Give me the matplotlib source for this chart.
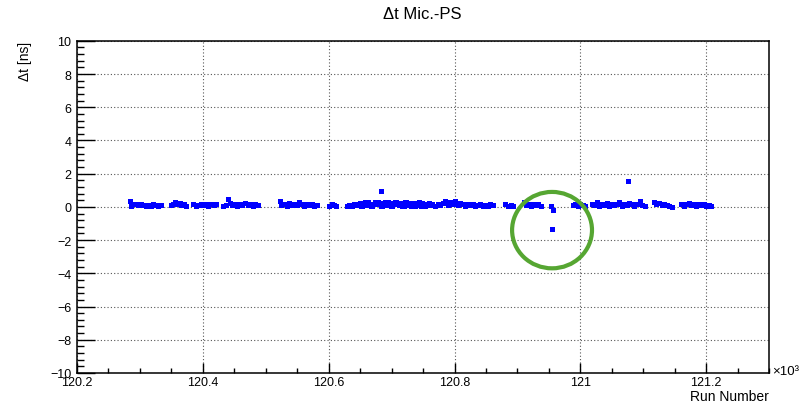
"""Delta t Mic.-PS versus run number."""

import matplotlib
matplotlib.use("Agg")

import matplotlib.pyplot as plt
from matplotlib.patches import Ellipse
from matplotlib.ticker import MultipleLocator
import numpy as np


# -- data (run number, delta t in ns) --

runs_a = [120284, 120286, 120289, 120293, 120297, 120301, 120305, 120309,
          120313, 120317, 120321, 120325, 120329, 120333]
dt_a = [0.35, 0.05, 0.2, 0.15, 0.1, 0.2, 0.1, 0.05, 0.1, 0.05, 0.15, 0.1,
        0.05, 0.1]

runs_b = [120349, 120352, 120356, 120359, 120363, 120366, 120370, 120374]
dt_b = [0.1, 0.2, 0.3, 0.15, 0.25, 0.1, 0.2, 0.05]

runs_c = [120385, 120389, 120393, 120397, 120401, 120405, 120409, 120413,
          120417, 120421, 120432]
dt_c = [0.15, 0.05, 0.1, 0.2, 0.1, 0.15, 0.05, 0.2, 0.1, 0.15, 0.05]

runs_d = [120437, 120443, 120447, 120451, 120455, 120459, 120463, 120467,
          120471, 120475, 120479, 120483, 120487]
dt_d = [0.1, 0.25, 0.1, 0.2, 0.05, 0.15, 0.1, 0.25, 0.1, 0.2, 0.05, 0.15,
        0.1]

runs_e = [120522, 120525, 120529, 120533, 120537, 120541, 120545, 120549,
          120553, 120557, 120561, 120565, 120569, 120573, 120577, 120581,
          120601, 120605, 120609, 120612]
dt_e = [0.35, 0.1, 0.2, 0.05, 0.25, 0.1, 0.2, 0.1, 0.3, 0.15, 0.05, 0.2,
        0.1, 0.15, 0.05, 0.1, 0.05, 0.15, 0.1, 0.05]

runs_g = [120629, 120633, 120637, 120641, 120645, 120649, 120653, 120657,
          120661, 120665, 120669, 120673, 120677, 120681, 120685, 120689,
          120693, 120697, 120701, 120705, 120709, 120713, 120717, 120721,
          120725, 120729, 120733, 120737, 120741, 120745, 120749, 120753,
          120757, 120761, 120765, 120769, 120773, 120777, 120781, 120785,
          120789, 120793, 120797, 120801, 120805, 120809, 120813, 120817,
          120821, 120825, 120829, 120833, 120837, 120841, 120845, 120849,
          120853, 120857, 120861]
dt_g = [0.05, 0.1, 0.05, 0.15, 0.1, 0.25, 0.05, 0.3, 0.1, 0.2,
        0.05, 0.3, 0.15, 0.25, 0.05, 0.3, 0.1, 0.25, 0.05, 0.3,
        0.15, 0.2, 0.05, 0.3, 0.1, 0.25, 0.15, 0.05, 0.2, 0.1,
        0.25, 0.05, 0.15, 0.1, 0.2, 0.05, 0.15, 0.1, 0.25, 0.35,
        0.1, 0.3, 0.2, 0.35, 0.1, 0.25, 0.15, 0.05, 0.2, 0.1,
        0.15, 0.05, 0.1, 0.15, 0.05, 0.1, 0.05, 0.15, 0.1]

runs_g2 = [120647, 120651, 120655, 120659, 120663, 120667, 120671, 120675,
           120679, 120683, 120687, 120691, 120695, 120699, 120703, 120707,
           120711, 120715, 120719, 120723, 120727, 120731, 120735, 120739,
           120743, 120747, 120751, 120755, 120759]
dt_g2 = [0.2, 0.05, 0.25, 0.1, 0.3, 0.05, 0.2, 0.15, 0.3, 0.05,
         0.25, 0.1, 0.3, 0.05, 0.2, 0.3, 0.1, 0.25, 0.05, 0.3,
         0.15, 0.05, 0.25, 0.1, 0.3, 0.05, 0.2, 0.1, 0.25]

runs_h = [120881, 120885, 120889, 120893, 120910, 120913, 120917, 120921,
          120925, 120929, 120933, 120937, 120953, 120956]
dt_h = [0.15, 0.05, 0.1, 0.05, 0.3, 0.1, 0.2, 0.05, 0.15, 0.1, 0.2, 0.05,
        0.05, -0.2]

runs_j = [120988, 120992, 120996, 121000, 121004, 121008, 121018, 121022,
          121026, 121030, 121034, 121038, 121042, 121046, 121050, 121054,
          121058, 121062, 121066, 121070, 121074, 121078, 121082, 121086,
          121090, 121094, 121098, 121102]
dt_j = [0.1, 0.2, 0.05, 0.15, 0.1, 0.05, 0.2, 0.1, 0.3, 0.05,
        0.15, 0.1, 0.25, 0.05, 0.2, 0.1, 0.15, 0.3, 0.05, 0.2,
        0.1, 0.25, 0.15, 0.05, 0.2, 0.35, 0.1, 0.05]

runs_k = [121117, 121121, 121125, 121129, 121133, 121137, 121141, 121145,
          121160, 121164, 121168, 121172, 121176, 121180, 121184, 121188,
          121192, 121196, 121200, 121204, 121207]
dt_k = [0.3, 0.15, 0.25, 0.1, 0.2, 0.1, 0.05, 0.0,
        0.2, 0.05, 0.15, 0.25, 0.1, 0.2, 0.05, 0.15, 0.1, 0.2, 0.05, 0.1,
        0.05]

# isolated points off the band
runs_out = [120440, 120683, 120955, 121075]
dt_out = [0.5, 0.96, -1.35, 1.57]

# the run that is ringed in green
ring_run = 120955
ring_dt = -1.4

FONT = "Liberation Sans"
BLUE = "#0000ff"


def main():
    runs = np.concatenate([runs_a, runs_b, runs_c, runs_d, runs_e, runs_g,
                           runs_g2, runs_h, runs_j, runs_k, runs_out])
    dt = np.concatenate([dt_a, dt_b, dt_c, dt_d, dt_e, dt_g, dt_g2, dt_h,
                         dt_j, dt_k, dt_out])

    plt.rcParams["font.family"] = FONT
    fig = plt.figure(figsize=(8.02, 4.06), dpi=100)
    ax = fig.add_axes([0.096, 0.079, 0.863, 0.818])

    ax.plot(runs / 1000.0, dt, "s", color=BLUE, markersize=3.6,
            markeredgewidth=0, zorder=3)

    ring = Ellipse((ring_run / 1000.0, ring_dt), width=0.127, height=4.6,
                   fill=False, edgecolor="#56a632", linewidth=3.0, zorder=4)
    ax.add_patch(ring)

    ax.set_xlim(120.2, 121.3)
    ax.set_ylim(-10, 10)
    ax.xaxis.set_major_locator(MultipleLocator(0.2))
    ax.xaxis.set_minor_locator(MultipleLocator(0.05))
    ax.yaxis.set_major_locator(MultipleLocator(2))
    ax.yaxis.set_minor_locator(MultipleLocator(0.4))
    ax.set_xticks([120.2, 120.4, 120.6, 120.8, 121.0, 121.2])
    ax.set_xticklabels(["120.2", "120.4", "120.6", "120.8", "121", "121.2"])

    ax.tick_params(axis="x", which="major", direction="in", length=7.2,
                   width=1.0, labelsize=9, pad=2)
    ax.tick_params(axis="x", which="minor", direction="in", length=3.6,
                   width=1.0)
    ax.tick_params(axis="y", which="major", direction="in", length=13,
                   width=1.0, labelsize=9, pad=4)
    ax.tick_params(axis="y", which="minor", direction="in", length=5,
                   width=1.0)

    ax.grid(True, which="major", color="#555555", linestyle=(0, (1, 2)),
            linewidth=0.8)
    ax.set_axisbelow(True)
    for s in ax.spines.values():
        s.set_linewidth(1.1)

    fig.text(0.526, 0.965, "\u0394t Mic.-PS", ha="center", va="center",
             fontsize=12)
    fig.text(0.031, 0.897, "\u0394t [ns]", rotation=90, ha="center",
             va="top", fontsize=10)
    fig.text(0.959, 0.004, "Run Number", ha="right", va="bottom",
             fontsize=10)
    fig.text(0.963, 0.068, "\u00d710\u00b3", ha="left", va="bottom",
             fontsize=9.5)

    fig.savefig("out.png", dpi=100)
    plt.close(fig)


if __name__ == "__main__":
    main()
